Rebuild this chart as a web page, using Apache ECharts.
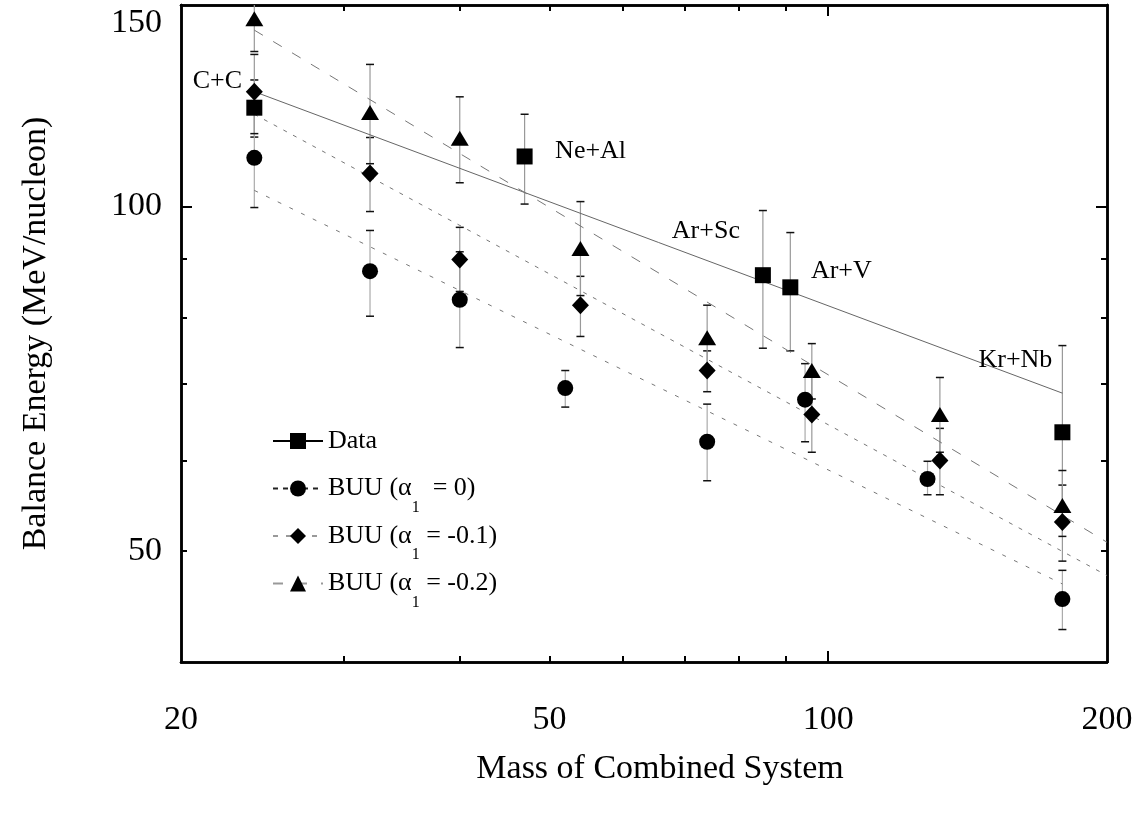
<!DOCTYPE html>
<html>
<head>
<meta charset="utf-8">
<script src="https://cdn.jsdelivr.net/npm/echarts@6/dist/echarts.min.js"></script>
<style>
  html, body { margin: 0; padding: 0; background: #fff; }
  #chart { width: 1147px; height: 815px; }
</style>
</head>
<body>
<div id="chart"></div>
<script>
// -------------------- D A T A -------------------- //

// measured balance energies
const dataMass = [24, 47, 85, 91, 179]
const dataEnergy = [122, 110.6, 87.1, 85.0, 63.5]
const dataLow = [115, 100.5, 75.2, 74.8, 53.3]
const dataHigh = [129, 120.4, 99.2, 94.9, 75.6]
const systemNames = ['C+C', 'Ne+Al', 'Ar+Sc', 'Ar+V', 'Kr+Nb']

// BUU, alpha1 = 0
const buu0Mass = [24, 32, 40, 52, 74, 94.4, 128, 179]
const buu0Energy = [110.3, 87.8, 82.9, 69.4, 62.3, 67.8, 57.8, 45.4]
const buu0Low = [99.8, 80.2, 75.3, 66.8, 57.6, 62.3, 56.0, 42.7]
const buu0High = [121.9, 95.3, 91.3, 71.9, 67.2, 72.9, 59.9, 48.1]

// BUU, alpha1 = -0.1
const buu1Mass = [24, 32, 40, 54, 74, 96, 132, 179]
const buu1Energy = [126.0, 106.9, 89.9, 82.0, 71.9, 65.8, 60.0, 53.0]
const buu1Low = [115.8, 99.0, 84.3, 77.0, 68.9, 61.0, 56.0, 49.0]
const buu1High = [135.8, 114.9, 95.9, 86.9, 74.8, 71.0, 64.0, 57.1]

// BUU, alpha1 = -0.2
const buu2Mass = [24, 32, 40, 54, 74, 96, 132, 179]
const buu2Energy = [145.9, 120.8, 114.7, 91.9, 76.8, 71.9, 65.8, 54.8]
const buu2Low = [136.6, 109.0, 104.9, 83.6, 72.0, 67.9, 61.0, 51.5]
const buu2High = [156, 133.1, 124.7, 101.0, 82.0, 75.9, 70.9, 58.8]

// power-law fits (end points)
const fitDataMass = [24, 179]
const fitDataEnergy = [126.0, 68.7]
const fitBuu0Mass = [24, 179]
const fitBuu0Energy = [103.3, 46.8]
const fitBuu1Mass = [24, 200]
const fitBuu1Energy = [120.4, 47.6]
const fitBuu2Mass = [24, 200]
const fitBuu2Energy = [142.6, 50.9]

// axes
const xRange = [20, 200]
const yRange = [40, 150]
const xLabelTicks = [20, 50, 100, 200]
const xMinorTicks = [30, 40, 50, 60, 70, 80, 90]
const xMajorTicks = [100]
const yLabelTicks = [50, 100, 150]
const yMinorTicks = [50, 60, 70, 80, 90]
const yMajorTicks = [100]

const seriesNames = ['Data', 'BUU (α1 = 0)', 'BUU (α1 = -0.1)', 'BUU (α1 = -0.2)']

// ----------------- S T Y L E ----------------- //

const FONT = "'Liberation Serif', 'DejaVu Serif', serif"
const labelOffsets = [[-37, -27], [66, -5], [-57, -44], [51, -16], [-47, -72]]
const legendText = {
  'Data': '{t|Data}{s| }',
  'BUU (α1 = 0)': '{t|BUU (α}{s|1}{t|  = 0)}',
  'BUU (α1 = -0.1)': '{t|BUU (α}{s|1}{t| = -0.1)}',
  'BUU (α1 = -0.2)': '{t|BUU (α}{s|1}{t| = -0.2)}'
}

// ----------------- H E L P E R S ----------------- //

const pairs = (xs, ys) => xs.map((x, i) => [x, ys[i]])

const logAxis = (dim, position, ticks, tickLen, labels, extra) => {
  const range = dim === 'x' ? xRange : yRange
  return Object.assign({
    type: 'log',
    logBase: 10,
    min: range[0],
    max: range[1],
    position: position,
    axisLine: { show: true, onZero: false, lineStyle: { color: '#000', width: 2.5 } },
    axisTick: {
      show: true, inside: true, length: tickLen, customValues: ticks,
      lineStyle: { color: '#000', width: 2 }
    },
    axisLabel: labels ? {
      show: true,
      customValues: labels,
      fontFamily: FONT,
      fontSize: 34,
      color: '#000'
    } : { show: false },
    splitLine: { show: false },
    minorTick: { show: false },
    minorSplitLine: { show: false }
  }, extra || {})
}

const errorSeries = (mass, low, high, color) => ({
  type: 'custom',
  clip: true,
  silent: true,
  z: 1,
  data: mass.map((m, i) => [m, low[i], high[i]]),
  encode: { x: 0, y: [1, 2] },
  renderItem: (params, api) => {
    const top = api.coord([api.value(0), api.value(2)])
    const bot = api.coord([api.value(0), api.value(1)])
    const w = 4
    return {
      type: 'group',
      children: [
        { type: 'line', shape: { x1: top[0], y1: top[1], x2: bot[0], y2: bot[1] }, style: { stroke: color, lineWidth: 1.2 } },
        { type: 'line', shape: { x1: top[0] - w, y1: top[1], x2: top[0] + w, y2: top[1] }, style: { stroke: '#111', lineWidth: 1.5 } },
        { type: 'line', shape: { x1: bot[0] - w, y1: bot[1], x2: bot[0] + w, y2: bot[1] }, style: { stroke: '#111', lineWidth: 1.5 } }
      ]
    }
  }
})

const fitSeries = (name, xs, ys, symbol, size, lineType, color) => ({
  name: name,
  type: 'line',
  silent: true,
  z: 2,
  symbol: symbol,
  symbolSize: size,
  showSymbol: false,
  itemStyle: { color: '#000', opacity: 1 },
  lineStyle: { color: color, width: 1, type: lineType },
  data: pairs(xs, ys)
})

const pointSeries = (name, xs, ys, symbol, size) => ({
  name: name,
  type: 'scatter',
  z: 3,
  symbol: symbol,
  symbolSize: size,
  itemStyle: { color: '#000', opacity: 1 },
  data: pairs(xs, ys)
})

// ----------------- O P T I O N ----------------- //

const dataPoints = pointSeries(seriesNames[0], dataMass, dataEnergy, 'rect', 16)
dataPoints.data = dataMass.map((m, i) => ({
  value: [m, dataEnergy[i]],
  label: {
    show: true,
    position: 'inside',
    offset: labelOffsets[i],
    formatter: systemNames[i],
    fontFamily: FONT,
    fontSize: 26,
    color: '#000'
  }
}))

const option = {
  backgroundColor: '#fff',
  animation: false,
  grid: { left: 181, right: 40, top: 5, bottom: 153, containLabel: false, outerBoundsMode: 'none' },
  legend: {
    orient: 'vertical',
    left: 272,
    top: 428,
    padding: 0,
    itemGap: 7.5,
    itemWidth: 50,
    itemHeight: 20,
    selectedMode: false,
    data: [
      { name: seriesNames[0], lineStyle: { color: '#000', type: 'solid' } },
      { name: seriesNames[1], lineStyle: { color: '#222', type: [5, 5] } },
      { name: seriesNames[2], lineStyle: { color: '#999', type: [5, 8] } },
      { name: seriesNames[3], lineStyle: { color: '#999', type: [10, 14] } }
    ],
    formatter: name => legendText[name],
    textStyle: {
      fontFamily: FONT,
      fontSize: 26,
      color: '#000',
      rich: {
        t: { fontFamily: FONT, fontSize: 26, color: '#000' },
        s: { fontFamily: FONT, fontSize: 16, color: '#000', padding: [38, 0, 0, 0] }
      }
    }
  },
  xAxis: [
    logAxis('x', 'bottom', xMinorTicks, 6, xLabelTicks, {
      name: 'Mass of Combined System',
      nameLocation: 'middle',
      nameGap: 90,
      nameTextStyle: { fontFamily: FONT, fontSize: 34, color: '#000', padding: [0, 0, 0, 32] },
      axisLabel: {
        show: true, customValues: xLabelTicks, margin: 41,
        fontFamily: FONT, fontSize: 34, color: '#000',
        formatter: v => String(Math.round(v))
      }
    }),
    logAxis('x', 'bottom', xMajorTicks, 11, null),
    logAxis('x', 'top', xMinorTicks, 6, null),
    logAxis('x', 'top', xMajorTicks, 11, null)
  ],
  yAxis: [
    logAxis('y', 'left', yMinorTicks, 6, yLabelTicks, {
      name: 'Balance Energy (MeV/nucleon)',
      nameLocation: 'middle',
      nameRotate: 90,
      nameGap: 128,
      nameTextStyle: { fontFamily: FONT, fontSize: 34, color: '#000' },
      axisLabel: {
        show: true, customValues: yLabelTicks, margin: 19,
        fontFamily: FONT, fontSize: 34, color: '#000',
        formatter: v => Math.round(v) === 150 ? '{lo|150}' : String(Math.round(v)),
        rich: { lo: { fontFamily: FONT, fontSize: 34, color: '#000', padding: [36, 0, 0, 0] } }
      }
    }),
    logAxis('y', 'left', yMajorTicks, 11, null),
    logAxis('y', 'right', yMinorTicks, 6, null),
    logAxis('y', 'right', yMajorTicks, 11, null)
  ],
  series: [
    fitSeries(seriesNames[0], fitDataMass, fitDataEnergy, 'rect', 16, 'solid', '#666'),
    fitSeries(seriesNames[1], fitBuu0Mass, fitBuu0Energy, 'circle', 16, [4, 9], '#777'),
    fitSeries(seriesNames[2], fitBuu1Mass, fitBuu1Energy, 'diamond', 16, [4, 7], '#777'),
    fitSeries(seriesNames[3], fitBuu2Mass, fitBuu2Energy, 'triangle', 16, [10, 12], '#777'),
    errorSeries(dataMass, dataLow, dataHigh, '#999'),
    errorSeries(buu0Mass, buu0Low, buu0High, '#aaa'),
    errorSeries(buu1Mass, buu1Low, buu1High, '#999'),
    errorSeries(buu2Mass, buu2Low, buu2High, '#999'),
    dataPoints,
    pointSeries(seriesNames[1], buu0Mass, buu0Energy, 'circle', 16),
    pointSeries(seriesNames[2], buu1Mass, buu1Energy, 'diamond', [17, 18]),
    pointSeries(seriesNames[3], buu2Mass, buu2Energy, 'triangle', [18, 15])
  ]
}

const myChart = echarts.init(document.getElementById('chart'))
myChart.setOption(option)
</script>
</body>
</html>
